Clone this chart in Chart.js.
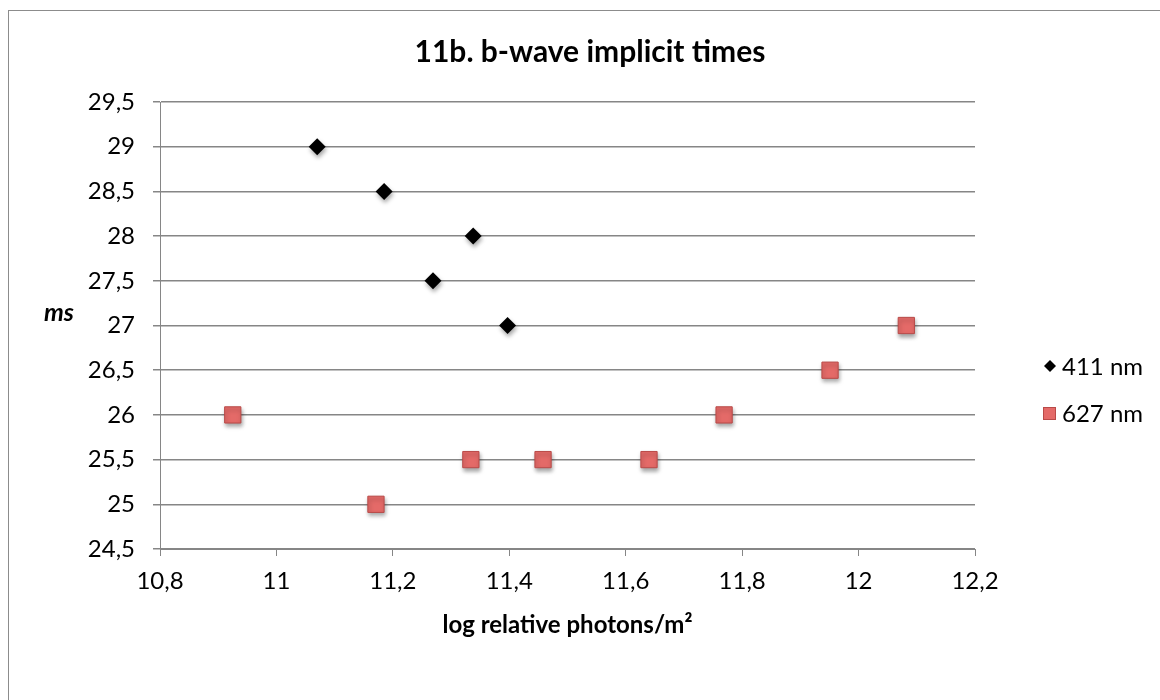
<!DOCTYPE html>
<html>
<head>
<meta charset="utf-8">
<script src="https://cdn.jsdelivr.net/npm/chart.js@4"></script>
<style>
  body { margin: 0; background: #fff; }
  #wrap { width: 1160px; height: 700px; }
</style>
</head>
<body>
<div id="wrap"><canvas id="scatterChart" width="1160" height="700"></canvas></div>
<script>
// 11b. b-wave implicit times
const x411 = [11.07, 11.185, 11.338, 11.269, 11.397];
const y411 = [29, 28.5, 28, 27.5, 27];
const x627 = [10.925, 11.171, 11.334, 11.458, 11.64, 11.769, 11.951, 12.082];
const y627 = [26, 25, 25.5, 25.5, 25.5, 26, 26.5, 27];
const xTicks = [10.8, 11, 11.2, 11.4, 11.6, 11.8, 12, 12.2];
const yTicks = [24.5, 25, 25.5, 26, 26.5, 27, 27.5, 28, 28.5, 29, 29.5];

const FONT = 'Lato, "Open Sans", sans-serif';
const fmt = v => Number.isInteger(v) ? String(v) : String(Math.round(v * 10) / 10).replace('.', ',');
const toPoints = (xs, ys) => xs.map((x, i) => ({ x: x, y: ys[i] }));

// sombra ligera bajo los marcadores
const shadowPlugin = {
    id: 'markerShadow',
    beforeDatasetsDraw(chart) {
        const c = chart.ctx;
        c.save();
        c.shadowColor = 'rgba(0,0,0,0.35)';
        c.shadowBlur = 4;
        c.shadowOffsetX = 1;
        c.shadowOffsetY = 3;
    },
    afterDatasetsDraw(chart) { chart.ctx.restore(); }
};

// marco, etiqueta "ms" y leyenda
const extrasPlugin = {
    id: 'extras',
    afterDraw(chart) {
        const c = chart.ctx;
        c.save();
        c.strokeStyle = '#8c8c8c';
        c.lineWidth = 1;
        c.strokeRect(8.5, 10.5, 1200, 800);

        c.fillStyle = '#000';
        c.font = 'italic bold 25px ' + FONT;
        c.textAlign = 'left';
        c.textBaseline = 'middle';
        c.fillText('ms', 44, 313);

        c.font = '24px ' + FONT;
        const rows = [366, 413];
        chart.data.datasets.forEach((ds, i) => {
            const y = rows[i];
            c.save();
            c.fillStyle = ds.backgroundColor;
            c.strokeStyle = ds.borderColor;
            c.lineWidth = 1;
            if (ds.pointStyle === 'rectRot') {
                c.beginPath();
                c.moveTo(1050, y - 6); c.lineTo(1056, y); c.lineTo(1050, y + 6); c.lineTo(1044, y);
                c.closePath(); c.fill();
            } else {
                c.fillRect(1043, y - 6, 13, 13);
                c.strokeRect(1043.5, y - 5.5, 12, 12);
            }
            c.restore();
            c.fillText(ds.label, 1062, y + 1);
        });
        c.restore();
    }
};

const ctx = document.getElementById('scatterChart').getContext('2d');
const scatterChart = new Chart(ctx, {
    type: 'scatter',
    data: {
        datasets: [
            {
                label: '411 nm',
                data: toPoints(x411, y411),
                pointStyle: 'rectRot',
                pointRadius: 8.5,
                pointHoverRadius: 8.5,
                backgroundColor: '#000000',
                borderColor: '#000000',
                borderWidth: 0
            },
            {
                label: '627 nm',
                data: toPoints(x627, y627),
                pointStyle: 'rect',
                pointRadius: 11.5,
                pointHoverRadius: 11.5,
                backgroundColor: '#e46a68',
                borderColor: '#b94a48',
                borderWidth: 1
            }
        ]
    },
    options: {
        responsive: false,
        animation: false,
        layout: { padding: { left: 20, right: 0, top: 0, bottom: 0 } },
        plugins: {
            legend: { display: false },
            tooltip: { enabled: false },
            title: {
                display: true,
                text: '11b. b-wave implicit times',
                color: '#000',
                font: { family: FONT, size: 30, weight: 'bold' },
                padding: { top: 34, bottom: 32 }
            }
        },
        scales: {
            x: {
                type: 'linear',
                min: 10.8,
                max: 12.2,
                afterBuildTicks: scale => { scale.ticks = xTicks.map(v => ({ value: v })); },
                afterFit: scale => { scale.height = 151; },
                ticks: { color: '#000', font: { family: FONT, size: 24 }, padding: 11, callback: v => fmt(v), maxRotation: 0 },
                grid: { drawOnChartArea: false, drawTicks: true, tickLength: 7, color: '#868686' },
                border: { color: '#868686' },
                title: {
                    display: true,
                    text: 'log relative photons/m²',
                    color: '#000',
                    font: { family: FONT, size: 24, weight: 'bold' },
                    padding: { top: 0, bottom: 60 }
                }
            },
            y: {
                type: 'linear',
                min: 24.5,
                max: 29.5,
                afterBuildTicks: scale => { scale.ticks = yTicks.map(v => ({ value: v })); },
                afterFit: scale => { scale.width = 140; },
                ticks: { color: '#000', font: { family: FONT, size: 24 }, padding: 18, callback: v => fmt(v) },
                grid: { color: '#868686', lineWidth: 1.5, tickLength: 7 },
                border: { color: '#868686' }
            },
            legendSpace: {
                type: 'linear',
                position: 'right',
                afterFit: scale => { scale.width = 185; },
                ticks: { display: false },
                grid: { display: false },
                border: { display: false }
            }
        }
    },
    plugins: [shadowPlugin, extrasPlugin]
});
</script>
</body>
</html>
